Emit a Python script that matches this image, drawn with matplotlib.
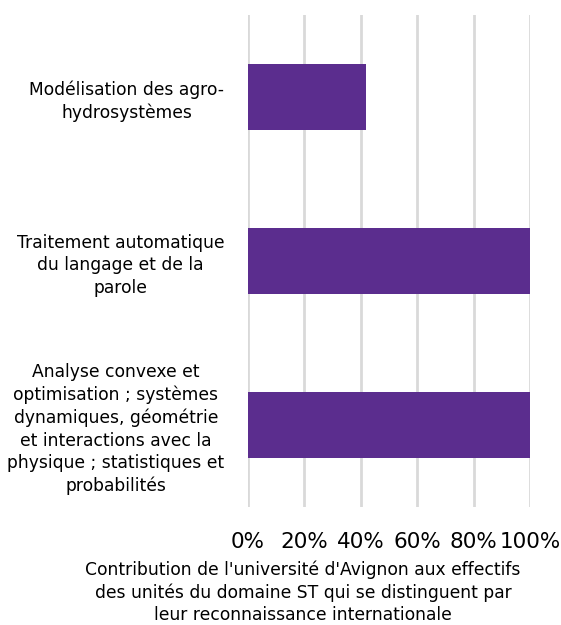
import matplotlib.pyplot as plt

categories = [
    "Modélisation des agro-\nhydrosystèmes",
    "Traitement automatique\ndu langage et de la\nparole",
    "Analyse convexe et\noptimisation ; systèmes\ndynamiques, géométrie\net interactions avec la\nphysique ; statistiques et\nprobabilités",
]
values = [42, 100, 100]
xticks = [0, 20, 40, 60, 80, 100]
xlabel = ("Contribution de l'université d'Avignon aux effectifs\n"
          "des unités du domaine ST qui se distinguent par\n"
          "leur reconnaissance internationale")

plt.rcParams['font.family'] = ['DejaVu Sans']

fig = plt.figure(figsize=(5.61, 6.25), dpi=100)
ax = fig.add_axes([0.442, 0.189, 0.503, 0.787])

pos = list(range(len(categories)))
ax.barh(pos, values, height=0.4, color='#5B2D8E', zorder=3)
ax.set_ylim(len(categories) - 0.5, -0.5)
ax.set_xlim(0, 100)

ax.set_yticks(pos)
ax.set_yticklabels(categories, fontsize=12.3, multialignment='center',
                   color='black', linespacing=1.32)
ax.set_xticks(xticks)
ax.set_xticklabels([f"{t}%" for t in xticks], fontsize=15.5, color='black')
ax.tick_params(axis='both', length=0)
ax.tick_params(axis='y', pad=17)
ax.tick_params(axis='x', pad=18)

ax.grid(axis='x', color='#D9D9D9', linewidth=2, zorder=0)
for s in ax.spines.values():
    s.set_visible(False)

fig.text(0.54, 0.001, xlabel, ha='center', va='bottom', fontsize=12.3,
         multialignment='center', linespacing=1.32)

fig.savefig('out.png', dpi=100)
